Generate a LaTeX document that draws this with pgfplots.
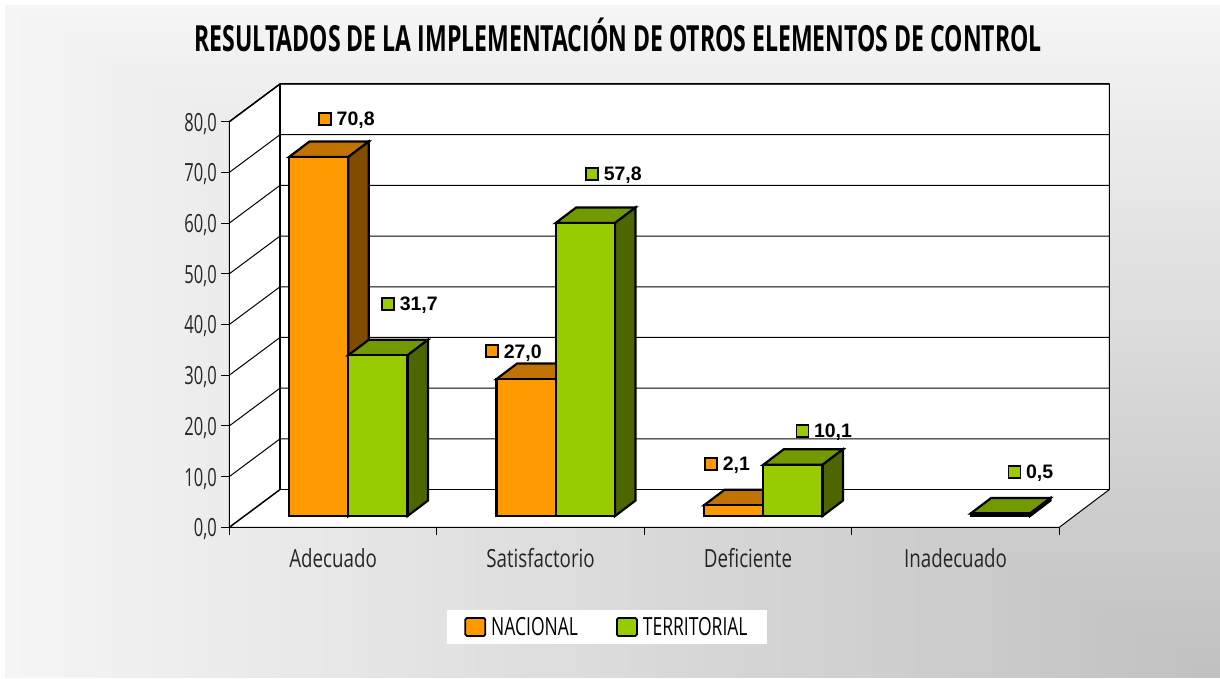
\documentclass[border=0pt]{standalone}
\usepackage{pgfplots}
\usepackage{fontspec}
\pgfplotsset{compat=1.18}
\setmainfont{Open Sans}
\newfontfamily\condf[FakeStretch=0.66]{Open Sans}
\newfontfamily\catf[FakeStretch=0.75]{Open Sans}
\newfontfamily\legf[FakeStretch=0.70]{Open Sans}
\newfontfamily\titlef[FakeStretch=0.64]{Open Sans}
\newfontfamily\valf{Liberation Sans}
\definecolor{naranja}{HTML}{FF9900}
\definecolor{naranjaT}{HTML}{C07300}
\definecolor{naranjaS}{HTML}{804D00}
\definecolor{verde}{HTML}{99CC00}
\definecolor{verdeT}{HTML}{739900}
\definecolor{verdeS}{HTML}{4D6600}
\definecolor{bgA}{HTML}{F5F5F5}
\definecolor{bgB}{HTML}{C0C0C0}
\begin{document}
\begin{tikzpicture}[x=1pt,y=1pt]
\path[use as bounding box] (0,0) rectangle (1220,679);
\fill[white] (0,0) rectangle (1220,679);
\foreach \i in {0,...,80}{
  \pgfmathsetmacro\xz{5+\i/80*1215}
  \pgfmathsetmacro\yz{674-\i/80*673}
  \pgfmathsetmacro\pc{\i/80*100}
  \fill[bgB!\pc!bgA] (\xz,1) rectangle (1220,\yz);
}
%
\begin{axis}[
  at={(229.3pt,151.7pt)},anchor=south west,
  scale only axis,width=880pt,height=443.3pt,
  xmin=0,xmax=4.241,ymin=0,ymax=87.44,
  clip=false,
  axis line style={draw=none},
  axis x line*=bottom,axis y line*=left,
  xtick={0.5,1.5,2.5,3.5},
  xticklabels={Adecuado,Satisfactorio,Deficiente,Inadecuado},
  xtick style={draw=none},
  ytick={0,10,20,30,40,50,60,70,80},
  ytick style={black,line width=1pt},
  tick align=outside,
  major tick length=8pt,
  /pgf/number format/fixed,
  /pgf/number format/fixed zerofill,
  /pgf/number format/precision=1,
  /pgf/number format/use comma,
  /pgf/number format/assume math mode=true,
  xticklabel style={font=\fontsize{25}{25}\selectfont\catf,black!85,yshift=-10pt},
  yticklabel style={font=\fontsize{25}{25}\selectfont\condf,black!85,xshift=-1pt,yshift=-2pt},
]
\addplot[draw=black,line width=1pt,fill=white] coordinates {(0,0)(0,80)(0.2443,87.44)(4.241,87.44)(4.241,7.44)(4,0)} -- cycle;
\addplot[black,line width=1pt] coordinates {(0,10)(0.2443,17.44)(4.241,17.44)};
\addplot[black,line width=1pt] coordinates {(0,20)(0.2443,27.44)(4.241,27.44)};
\addplot[black,line width=1pt] coordinates {(0,30)(0.2443,37.44)(4.241,37.44)};
\addplot[black,line width=1pt] coordinates {(0,40)(0.2443,47.44)(4.241,47.44)};
\addplot[black,line width=1pt] coordinates {(0,50)(0.2443,57.44)(4.241,57.44)};
\addplot[black,line width=1pt] coordinates {(0,60)(0.2443,67.44)(4.241,67.44)};
\addplot[black,line width=1pt] coordinates {(0,70)(0.2443,77.44)(4.241,77.44)};
\addplot[black,line width=1.5pt] coordinates {(0,80)(0.2443,87.44)(4.241,87.44)};
\addplot[black,line width=1.2pt] coordinates {(0.2443,87.44)(0.2443,7.44)(4.241,7.44)};
\addplot[black,line width=1.5pt] coordinates {(0,0)(0.2443,7.44)};
\addplot[black,line width=1.2pt] coordinates {(0,80)(0,0)(4,0)};
\addplot[black,line width=1pt] coordinates {(0,0)(0,-1.5)};
\addplot[black,line width=1pt] coordinates {(1,0)(1,-1.5)};
\addplot[black,line width=1pt] coordinates {(2,0)(2,-1.5)};
\addplot[black,line width=1pt] coordinates {(3,0)(3,-1.5)};
\addplot[black,line width=1pt] coordinates {(4,0)(4,-1.5)};
\end{axis}
%
\begin{axis}[
  at={(244.5pt,163pt)},anchor=south west,
  scale only axis,width=880pt,height=443.3pt,
  xmin=0,xmax=4.241,ymin=0,ymax=87.44,
  clip=false,hide axis,
  legend style={at={(362.5pt,-111pt)},anchor=center,draw=none,fill=white,
    inner xsep=17pt,inner ysep=5pt,font=\fontsize{25}{25}\selectfont\legf,
    /tikz/every even column/.append style={column sep=36pt},
    legend cell align=left},
  legend columns=2,
  legend image code/.code={\draw[#1,line width=1.8pt,rounded corners=1.5pt] (0pt,-9pt) rectangle (20pt,9pt);},
]
\tikzset{bf/.style={draw=black,line width=2.2pt,line join=miter}}
% NACIONAL
\addplot[bf,fill=naranjaT,forget plot] coordinates {(0.2142,70.8)(0.3130,73.86)(0.5988,73.86)(0.5,70.8)} -- cycle;
\addplot[bf,fill=naranjaS,forget plot] coordinates {(0.5,70.8)(0.5988,73.86)(0.5988,3.06)(0.5,0)} -- cycle;
\addplot[bf,fill=naranjaT,forget plot] coordinates {(1.2142,27.0)(1.3130,30.06)(1.5988,30.06)(1.5,27.0)} -- cycle;
\addplot[bf,fill=naranjaT,forget plot] coordinates {(2.2142,2.1)(2.3130,5.16)(2.5988,5.16)(2.5,2.1)} -- cycle;
\addplot[ybar,bar width=59.3pt,bar shift=-29.65pt,bf,fill=naranja] coordinates {(0.5,70.8)(1.5,27.0)(2.5,2.1)};
\addlegendentry{\hspace{3pt}NACIONAL}
% TERRITORIAL
\addplot[bf,fill=verdeT,forget plot] coordinates {(0.5,31.7)(0.5988,34.76)(0.8846,34.76)(0.7858,31.7)} -- cycle;
\addplot[bf,fill=verdeS,forget plot] coordinates {(0.7858,31.7)(0.8846,34.76)(0.8846,3.06)(0.7858,0)} -- cycle;
\addplot[bf,fill=verdeT,forget plot] coordinates {(1.5,57.8)(1.5988,60.86)(1.8846,60.86)(1.7858,57.8)} -- cycle;
\addplot[bf,fill=verdeS,forget plot] coordinates {(1.7858,57.8)(1.8846,60.86)(1.8846,3.06)(1.7858,0)} -- cycle;
\addplot[bf,fill=verdeT,forget plot] coordinates {(2.5,10.1)(2.5988,13.16)(2.8846,13.16)(2.7858,10.1)} -- cycle;
\addplot[bf,fill=verdeS,forget plot] coordinates {(2.7858,10.1)(2.8846,13.16)(2.8846,3.06)(2.7858,0)} -- cycle;
\addplot[bf,fill=verdeT,forget plot] coordinates {(3.5,0.5)(3.5988,3.56)(3.8846,3.56)(3.7858,0.5)} -- cycle;
\addplot[bf,fill=verdeS,forget plot] coordinates {(3.7858,0.5)(3.8846,3.56)(3.8846,3.06)(3.7858,0)} -- cycle;
\addplot[ybar,bar width=59.3pt,bar shift=29.65pt,bf,fill=verde] coordinates {(0.5,31.7)(1.5,57.8)(2.5,10.1)(3.5,0.5)};
\addlegendentry{\hspace{3pt}TERRITORIAL}
% data labels
\addplot[only marks,mark=square*,mark size=6pt,forget plot,point meta=explicit symbolic,
  mark options={fill=naranja,draw=black,line width=1.5pt,rounded corners=1pt},
  nodes near coords={\pgfplotspointmeta},
  nodes near coords style={font=\fontsize{19.5}{19.5}\selectfont\valf\bfseries,anchor=west,inner sep=0pt,xshift=11pt,yshift=-1.5pt,black}] coordinates {(0.3879,78.3)[70,8] (1.1928,32.5)[27,0] (2.2482,10.3)[2,1]};
\addplot[only marks,mark=square*,mark size=6pt,forget plot,point meta=explicit symbolic,
  mark options={fill=verde,draw=black,line width=1.5pt,rounded corners=1pt},
  nodes near coords={\pgfplotspointmeta},
  nodes near coords style={font=\fontsize{19.5}{19.5}\selectfont\valf\bfseries,anchor=west,inner sep=0pt,xshift=11pt,yshift=-1.5pt,black}] coordinates {(0.6916,41.8)[31,7] (1.6747,67.5)[57,8] (2.688,16.8)[10,1] (3.710,8.7)[0,5]};
\end{axis}
\node[anchor=base,inner sep=0pt,font=\fontsize{36}{36}\selectfont\titlef\bfseries,black] at (618,627) {RESULTADOS DE LA IMPLEMENTACIÓN DE OTROS ELEMENTOS DE CONTROL};
\end{tikzpicture}
\end{document}
